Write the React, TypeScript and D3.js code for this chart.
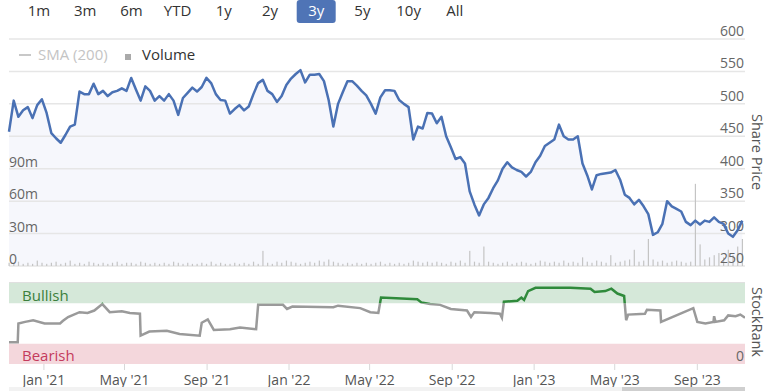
import * as d3 from 'd3';

// range selector
const rangeButtons = ['1m', '3m', '6m', 'YTD', '1y', '2y', '3y', '5y', '10y', 'All'];
const selectedRange = '3y';

// share price, weekly closes from 10 Nov 2020
const priceStart = '2020-11-10';
const priceValues = [
  457, 505, 480, 490, 495, 478, 498, 507, 486, 455,
  447, 440, 452, 465, 468, 519, 515, 515, 531, 515,
  520, 512, 518, 520, 524, 520, 540, 522, 505, 527,
  520, 505, 512, 505, 515, 505, 483, 509, 517, 525,
  519, 526, 540, 532, 515, 506, 505, 485, 492, 498,
  490, 496, 515, 532, 537, 520, 515, 503, 512, 529,
  539, 546, 552, 533, 545, 545, 546, 535, 506, 465,
  500, 518, 535, 535, 528, 520, 513, 500, 485, 510,
  521, 521, 520, 506, 500, 495, 445, 465, 462, 486,
  485, 470, 480, 450, 433, 415, 418, 408, 365, 345,
  328, 345, 355, 370, 382, 400, 410, 402, 398, 395,
  388, 395, 410, 420, 435, 440, 445, 468, 450, 445,
  445, 450, 408, 390, 368, 390, 392, 393, 394, 398,
  383, 360, 355, 345, 352, 342, 330, 298, 302, 315,
  350, 342, 338, 334, 318, 313, 320, 314, 320, 318,
  325, 318, 315, 300, 295, 305, 320,
];

// weekly volume, millions
const volumeValues = [
  3, 2, 4, 2, 3, 2, 5, 3, 2, 3,
  4, 2, 3, 5, 2, 3, 2, 4, 3, 2,
  3, 2, 3, 4, 2, 3, 3, 2, 4, 3,
  2, 3, 2, 3, 2, 4, 3, 2, 3, 2,
  2, 3, 2, 4, 2, 3, 2, 2, 3, 2,
  3, 2, 4, 2, 14, 3, 2, 4, 3, 5,
  4, 3, 2, 3, 4, 3, 5, 4, 6, 4,
  3, 2, 3, 2, 3, 2, 3, 2, 3, 4,
  2, 3, 2, 3, 2, 3, 5, 4, 3, 4,
  3, 4, 3, 2, 4, 3, 5, 3, 14, 4,
  3, 18, 4, 3, 2, 3, 4, 2, 3, 4,
  3, 2, 3, 5, 4, 3, 4, 3, 5, 3,
  4, 3, 8, 4, 3, 5, 4, 3, 10, 3,
  4, 5, 6, 15, 4, 5, 25, 6, 4, 5,
  3, 4, 5, 4, 3, 4, 76, 20, 6, 8,
  10, 12, 8, 15, 10, 18, 25,
];

// StockRank history
const rankDates = [
  '2020-11-10', '2020-11-23', '2020-11-24', '2020-12-04', '2020-12-16', '2021-01-02',
  '2021-01-25', '2021-01-29', '2021-02-06', '2021-02-23', '2021-03-07', '2021-03-17',
  '2021-03-29', '2021-04-09', '2021-04-27', '2021-05-09', '2021-05-24', '2021-05-25',
  '2021-06-07', '2021-07-03', '2021-07-22', '2021-08-21', '2021-08-24', '2021-09-02',
  '2021-09-11', '2021-10-05', '2021-10-20', '2021-11-13', '2021-11-16', '2021-12-23',
  '2021-12-29', '2022-01-06', '2022-03-08', '2022-03-15', '2022-04-17', '2022-05-02',
  '2022-05-14', '2022-05-18', '2022-07-11', '2022-07-17', '2022-07-30', '2022-08-14',
  '2022-08-30', '2022-09-23', '2022-09-29', '2022-10-04', '2022-10-28', '2022-11-11',
  '2022-11-14', '2022-11-17', '2022-12-07', '2022-12-13', '2022-12-17', '2022-12-23',
  '2023-01-03', '2023-02-24', '2023-03-26', '2023-04-01', '2023-04-17', '2023-04-26',
  '2023-05-05', '2023-05-15', '2023-05-18', '2023-05-21', '2023-06-15', '2023-06-18',
  '2023-07-08', '2023-07-09', '2023-08-26', '2023-09-01', '2023-09-13', '2023-09-25',
  '2023-09-26', '2023-09-28', '2023-10-11', '2023-10-17', '2023-10-28', '2023-11-04',
  '2023-11-11',
];
const rankValues = [
  27, 27, 50, 52, 54, 50,
  50, 53, 58, 64, 63, 66,
  74, 64, 65, 63, 62, 35,
  40, 41, 37, 35, 51, 55,
  42, 43, 45, 43, 73, 73,
  68, 71, 70, 72, 69, 64,
  63, 82, 80, 76, 74, 73,
  68, 66, 58, 64, 63, 62,
  57, 77, 78, 82, 79, 90,
  94, 94, 93, 89, 90, 93,
  87, 84, 54, 61, 62, 67,
  66, 52, 69, 52, 50, 52,
  59, 52, 54, 60, 59, 61,
  57,
];

const priceTicks = [250, 300, 350, 400, 450, 500, 550, 600];
const volumeTicks = [0, 30, 60, 90];
const dateTicks = ['2021-01-01', '2021-05-01', '2021-09-01', '2022-01-01', '2022-05-01',
  '2022-09-01', '2023-01-01', '2023-05-01', '2023-09-01'];

const FONT = '"Open Sans", "DejaVu Sans", sans-serif';

export default function App() {
  const parse = d3.timeParse('%Y-%m-%d');
  const start = parse(priceStart)!;
  const price = priceValues.map((v, i) => ({ date: d3.timeDay.offset(start, i * 7), value: v }));
  const volume = volumeValues.map((v, i) => ({ date: d3.timeDay.offset(start, i * 7), value: v }));
  const rank = rankValues.map((v, i) => ({ date: parse(rankDates[i])!, value: v }));

  const left = 9;
  const right = 745;

  const x = d3.scaleTime()
    .domain([parse('2020-11-10')!, parse('2023-11-11')!])
    .range([left, right]);
  const yPrice = d3.scaleLinear().domain([250, 600]).range([266, 39]);
  const yVol = d3.scaleLinear().domain([0, 210]).range([266, 39]);
  const yRank = d3.scaleLinear().domain([0, 100]).range([364, 283]);

  const line = d3.line<{ date: Date; value: number }>()
    .x(d => x(d.date))
    .y(d => yPrice(d.value));
  const area = d3.area<{ date: Date; value: number }>()
    .x(d => x(d.date))
    .y0(yPrice(250))
    .y1(d => yPrice(d.value));
  const rankLine = d3.line<{ date: Date; value: number }>()
    .x(d => x(d.date))
    .y(d => yRank(d.value));

  const fmt = d3.timeFormat("%b '%y");
  const bull = yRank(75);
  const bear = yRank(25);

  return (
    <svg width={768} height={391} style={{ position: 'absolute', left: 0, top: 0, display: 'block' }}
      fontFamily={FONT}>
      <defs>
        <clipPath id="bull-clip">
          <rect x={left} y={270} width={right - left} height={bull - 270} />
        </clipPath>
        <clipPath id="rest-clip">
          <rect x={left} y={bull} width={right - left} height={380 - bull} />
        </clipPath>
      </defs>

      {/* range buttons */}
      {rangeButtons.map((b, i) => {
        const cx = 39 + i * 46.2;
        const sel = b === selectedRange;
        return (
          <g key={b}>
            {sel && <rect x={cx - 19.5} y={0} width={39} height={23} rx={3} fill="#4f74b6" />}
            <text x={cx} y={16} textAnchor="middle" fontSize={15} fill={sel ? '#fff' : '#333'}>{b}</text>
          </g>
        );
      })}

      {/* price area + grid */}
      <path d={area(price)!} fill="#f6f7fc" />
      {priceTicks.map(t => (
        <line key={t} x1={left} x2={right} y1={yPrice(t)} y2={yPrice(t)} stroke="#e6e6e6" strokeWidth={1.5} />
      ))}

      {/* legend */}
      <line x1={19} x2={31} y1={55} y2={55} stroke="#c8c8c8" strokeWidth={2} />
      <text x={38} y={60} fontSize={15} fill="#c4c4c4">SMA (200)</text>
      <rect x={125} y={54} width={6} height={6} fill="#aaaaaa" />
      <text x={142} y={60} fontSize={15} fill="#333">Volume</text>

      {/* volume */}
      {volume.map((d, i) => (
        <rect key={i} x={x(d.date) - 0.5} width={1.2} y={yVol(d.value)} height={yVol(0) - yVol(d.value)}
          fill="#c4c4c4" />
      ))}

      {/* axis labels */}
      {priceTicks.map(t => (
        <text key={t} x={744} y={yPrice(t) - 3} textAnchor="end" fontSize={14} fill="#666">{t}</text>
      ))}
      {volumeTicks.map(t => (
        <text key={t} x={left} y={yVol(t) - 2} fontSize={14} fill="#666">{t === 0 ? '0' : `${t}m`}</text>
      ))}

      <path d={line(price)!} fill="none" stroke="#4a71b4" strokeWidth={2.5} strokeLinejoin="round" />

      <text transform="translate(752,152) rotate(90)" textAnchor="middle" fontSize={14.5} fill="#555">Share Price</text>

      {/* StockRank panel */}
      <line x1={left} x2={right} y1={282.5} y2={282.5} stroke="#e0e0e0" />
      <rect x={left} y={283} width={right - left} height={bull - 283} fill="#d5e8d9" />
      <rect x={left} y={bear} width={right - left} height={yRank(0) - bear} fill="#f4d7dc" />
      <text x={22} y={301} fontSize={15} fill="#3c7f3c">Bullish</text>
      <text x={22} y={361} fontSize={15} fill="#c43b5c">Bearish</text>
      <text x={744} y={361} textAnchor="end" fontSize={14} fill="#666">0</text>

      <path d={rankLine(rank)!} fill="none" stroke="#9a9a9a" strokeWidth={2.5} clipPath="url(#rest-clip)" />
      <path d={rankLine(rank)!} fill="none" stroke="#2f8a3b" strokeWidth={2.5} clipPath="url(#bull-clip)" />

      <text transform="translate(752,322) rotate(90)" textAnchor="middle" fontSize={14.5} fill="#555">StockRank</text>

      {/* x axis */}
      {dateTicks.map(s => {
        const d = parse(s)!;
        return (
          <g key={s}>
            <line x1={x(d)} x2={x(d)} y1={364} y2={370} stroke="#d8d8d8" />
            <text x={x(d)} y={385} textAnchor="middle" fontSize={14} fill="#555">{fmt(d)}</text>
          </g>
        );
      })}

      {/* navigator scrollbar */}
      <rect x={left} y={387} width={right - left} height={4} fill="#f2f2f2" />
      <rect x={622} y={387} width={right - 622} height={4} fill="#cfcfcf" />
    </svg>
  );
}
